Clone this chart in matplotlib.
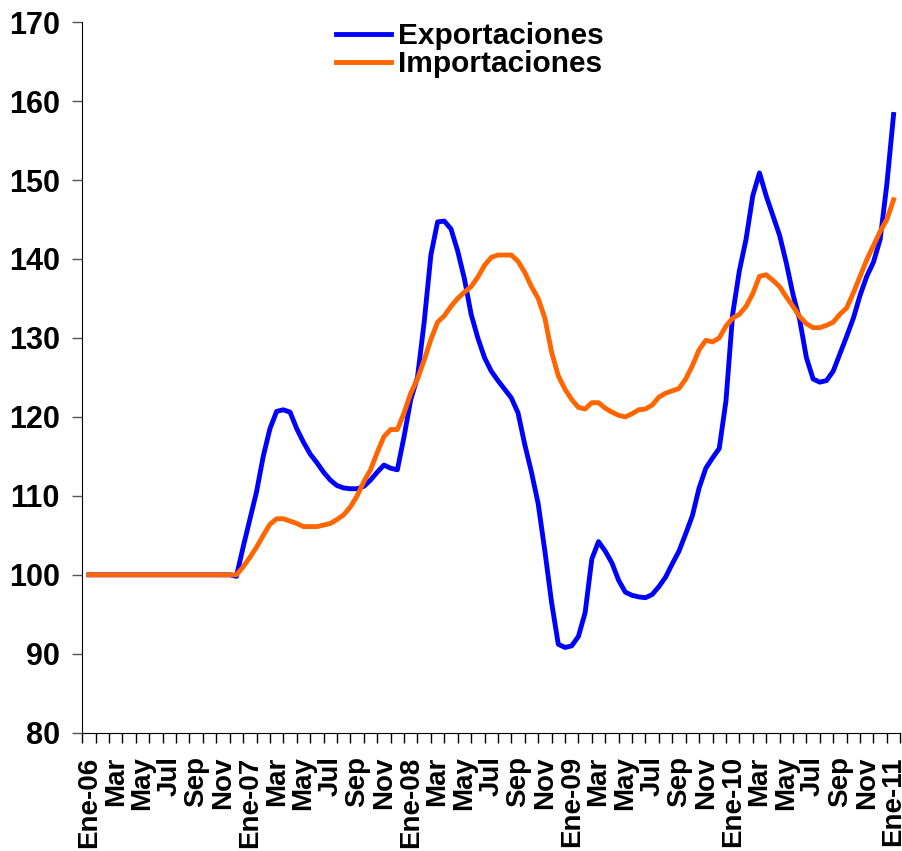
import numpy as np
import matplotlib.pyplot as plt

# Indices quincenales, Ene-06 = 100 (eje x en meses desde Ene-06, cada 0.5)
meses = np.arange(0, 60.5, 0.5)

exportaciones = [
    100.0, 100.0, 100.0, 100.0, 100.0, 100.0, 100.0, 100.0, 100.0, 100.0, 100.0,
    100.0, 100.0, 100.0, 100.0, 100.0, 100.0, 100.0, 100.0, 100.0, 100.0, 100.0,
    99.8, 103.5, 107.0, 110.5, 115.0, 118.5, 120.7, 120.9, 120.6, 118.5,
    116.8, 115.3, 114.2, 113.0, 112.0, 111.3, 111.0, 110.9, 110.9, 111.2,
    112.0, 113.0, 113.9, 113.5, 113.3, 117.5, 122.2, 125.0, 132.0, 140.5,
    144.7, 144.8, 143.8, 141.0, 137.5, 133.0, 130.0, 127.5, 125.8, 124.6,
    123.5, 122.4, 120.5, 116.5, 113.0, 109.0, 103.0, 96.5, 91.2, 90.8,
    91.0, 92.2, 95.2, 102.0, 104.2, 103.0, 101.5, 99.3, 97.8, 97.4,
    97.2, 97.1, 97.5, 98.5, 99.7, 101.4, 103.0, 105.2, 107.5, 111.0,
    113.5, 114.8, 116.0, 122.0, 133.0, 138.5, 142.5, 148.0, 150.9, 148.0,
    145.5, 143.0, 139.5, 135.5, 132.3, 127.5, 124.8, 124.4, 124.6, 125.8,
    128.0, 130.2, 132.5, 135.4, 137.8, 139.6, 142.5, 149.5, 158.3,
]

importaciones = [
    100.0, 100.0, 100.0, 100.0, 100.0, 100.0, 100.0, 100.0, 100.0, 100.0, 100.0,
    100.0, 100.0, 100.0, 100.0, 100.0, 100.0, 100.0, 100.0, 100.0, 100.0, 100.0,
    100.0, 101.0, 102.2, 103.5, 105.0, 106.4, 107.1, 107.1, 106.8, 106.5,
    106.1, 106.1, 106.1, 106.3, 106.5, 107.0, 107.6, 108.6, 110.0, 111.8,
    113.3, 115.5, 117.5, 118.4, 118.4, 120.5, 123.0, 124.8, 127.2, 129.8,
    132.0, 132.8, 134.0, 135.0, 135.8, 136.5, 137.7, 139.2, 140.2, 140.5,
    140.5, 140.5, 139.7, 138.3, 136.5, 135.0, 132.5, 128.2, 125.2, 123.5,
    122.2, 121.2, 121.0, 121.8, 121.8, 121.1, 120.6, 120.2, 120.0, 120.4,
    120.9, 121.0, 121.5, 122.5, 123.0, 123.3, 123.6, 124.8, 126.5, 128.5,
    129.7, 129.5, 130.0, 131.5, 132.5, 133.0, 134.0, 135.6, 137.8, 138.0,
    137.3, 136.5, 135.2, 134.0, 132.7, 131.8, 131.3, 131.3, 131.6, 132.0,
    133.0, 133.8, 135.7, 137.8, 139.9, 141.7, 143.5, 145.0, 147.5,
]

anios = ['06', '07', '08', '09', '10', '11']
nombres_mes = ['Ene', 'Mar', 'May', 'Jul', 'Sep', 'Nov']

etiquetas = []
for a in anios:
    for n in nombres_mes:
        etiquetas.append('Ene-' + a if n == 'Ene' else n)
etiquetas = etiquetas[:31]

plt.rcParams['font.family'] = ['Liberation Sans', 'DejaVu Sans']
plt.rcParams['font.weight'] = 'bold'

fig = plt.figure(figsize=(9.03, 8.51), dpi=100)
ax = fig.add_axes([0.091, 0.139, 0.906, 0.835])

ax.plot(meses, exportaciones, color='#0000FF', lw=3.5, label='Exportaciones', solid_joinstyle='round')
ax.plot(meses, importaciones, color='#FF6600', lw=3.5, label='Importaciones', solid_joinstyle='round')

ax.set_xlim(-0.5, 60.5)
ax.set_ylim(80, 170)
ax.set_yticks(np.arange(80, 171, 10))

ax.set_xticks(np.arange(-0.5, 61, 1))
ax.set_xticklabels([])
ax.set_xticks(np.arange(0, 61, 2), minor=True)
ax.set_xticklabels(etiquetas, minor=True, rotation=90, fontsize=20, fontweight='bold', va='top')
ax.tick_params(axis='x', which='major', length=7, width=1, direction='out')
ax.tick_params(axis='x', which='minor', length=0, pad=17)
ax.tick_params(axis='y', length=7, width=1, labelsize=22, color='#555555', pad=9)
for t in ax.get_yticklabels():
    t.set_fontweight('bold')

ax.spines['top'].set_visible(False)
ax.spines['right'].set_visible(False)

ax.legend(loc='upper left', bbox_to_anchor=(0.31, 1.0), frameon=False,
          prop={'size': 21.5, 'weight': 'bold'}, handlelength=1.85,
          handletextpad=0.25, labelspacing=0.0, borderpad=0, borderaxespad=0)

plt.savefig('out.png', dpi=100)
